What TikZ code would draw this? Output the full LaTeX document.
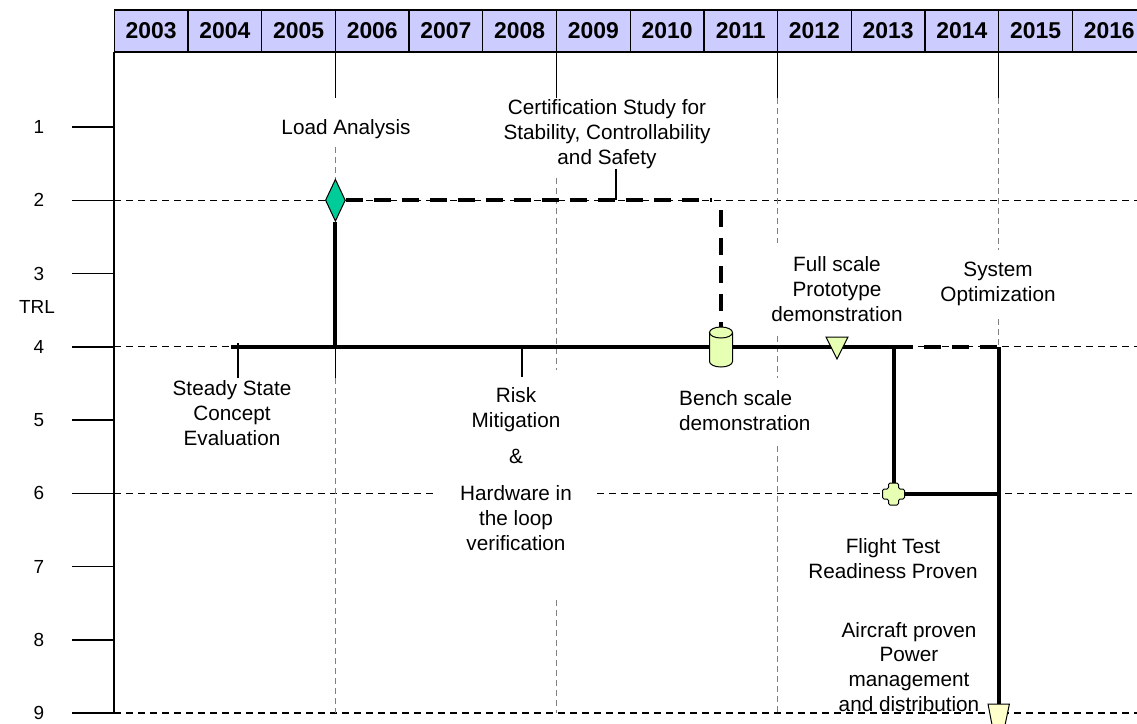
\documentclass[tikz,border=0pt]{standalone}
\usepackage{fontspec}
\setmainfont{Liberation Sans}
\usetikzlibrary{shapes.geometric}
\definecolor{hdr}{RGB}{204,204,255}
\definecolor{mteal}{RGB}{0,204,153}
\definecolor{mk}{RGB}{230,255,179}
\definecolor{mktwo}{RGB}{255,255,204}
\definecolor{gridgray}{RGB}{128,128,128}
\begin{document}
\begin{tikzpicture}[x=1bp,y=-1bp,
  yearcell/.style={draw=black, line width=1.3bp, fill=hdr, minimum width=73.7bp, minimum height=42bp, inner sep=0, font=\fontsize{23}{26}\selectfont\bfseries},
  rowlab/.style={font=\fontsize{19}{22}\selectfont, inner sep=0},
  lab/.style={font=\fontsize{20.8}{25}\selectfont, align=center, inner sep=0},
  rowgrid/.style={line width=1.3bp, dash pattern=on 7bp off 5bp},
  vgrid/.style={draw=gridgray, line width=1.3bp, dash pattern=on 6bp off 4bp},
  vtop/.style={line width=1.2bp},
  crit/.style={line width=4bp},
  critdash/.style={line width=4bp, dash pattern=on 17bp off 11bp},
  conn/.style={line width=1.5bp},
  marker/.style={draw=black, line width=1bp}
]
\useasboundingbox (0,0) rectangle (1137,724);
\clip (0,0) rectangle (1137,724);
\fill[white] (0,0) rectangle (1137,724);

% header
\foreach \yr [count=\i from 0] in {2003,...,2016}
  \node[yearcell] (y\yr) at ({114.3+73.7*\i+36.85},31) {\yr};

% axis and row labels
\draw[line width=2bp] (114.3,52) -- (114.3,713);
\foreach \r in {1,...,9} {
  \node[rowlab] (r\r) at (39,{127+(\r-1)*73.25}) {\r};
  \draw[line width=1.5bp] (72,{127+(\r-1)*73.25}) -- (114.3,{127+(\r-1)*73.25});
}
\node[rowlab] (trl) at (37,307) {TRL};

% horizontal grid rows
\draw[rowgrid] (114.3,200.25) -- (1137,200.25);
\draw[rowgrid] (114.3,346.75) -- (1137,346.75);
\draw[rowgrid] (114.3,493.25) -- (435,493.25);
\draw[rowgrid] (597,493.25) -- (1137,493.25);
\draw[rowgrid] (114.3,713) -- (1137,713);

% vertical grid lines
\foreach \xx in {335.4,556.5,777.6,998.7}
  \draw[vtop] (\xx,52) -- (\xx,98);
\draw[vgrid] (335.4,147) -- (335.4,179);
\draw[vgrid] (335.4,378) -- (335.4,713);
\draw[vgrid] (556.5,178) -- (556.5,370);
\draw[vgrid] (556.5,600) -- (556.5,713);
\draw[vgrid] (777.6,98) -- (777.6,243);
\draw[vgrid] (777.6,336) -- (777.6,378);
\draw[vgrid] (777.6,446) -- (777.6,713);
\draw[vgrid] (998.7,98) -- (998.7,250);
\draw[vgrid] (998.7,319) -- (998.7,347);

% markers (nodes)
\node[diamond, marker, fill=mteal, minimum width=20bp, minimum height=42bp, inner sep=0] (dia) at (335.4,200.25) {};
\node[minimum width=23bp, minimum height=40bp, inner sep=0] (cyl) at (721,347) {};
\node[minimum size=22bp, inner sep=0] (tri) at (837,348) {};
\node[minimum size=22bp, inner sep=0] (plus) at (893.5,494) {};
\node[minimum width=21bp, minimum height=20bp, inner sep=0, anchor=north] (bot) at (998.7,704) {};

\coordinate (s4) at (231,346.75);
\coordinate (e4) at (896,346.75);
\coordinate (j4) at (893.5,346.75);
\coordinate (d4) at (998.7,346.75);
\coordinate (d6) at (998.7,494);
\coordinate (c2) at (712,200.25);
\coordinate (c2v) at (721,210);

% critical path
\draw[crit] (dia.south) -- (dia.south |- s4);
\draw[crit] (s4) -- (e4);
\draw[crit] (j4) -- (plus.north);
\draw[crit] (plus.east) -- (d6);
\draw[crit] (d4) -- (bot.north);
\draw[critdash] (dia.east) -- (c2);
\draw[critdash] (c2v) -- (cyl.north);
\draw[critdash] (e4) -- (d4);

% thin connectors
\draw[conn] (238,343) -- (238,378);
\draw[conn] (522,349) -- (522,377);
\draw[conn] (335.4,347) -- (335.4,378);
\draw[conn] (616,169) -- (616,200.25);

% marker drawings
\begin{scope}[shift={(cyl.center)}]
  \draw[marker, fill=mk] (-11.5,-14.5) -- (-11.5,14.5) arc[start angle=180, end angle=360, x radius=11.5bp, y radius=5.5bp] -- (11.5,-14.5) arc[start angle=0, end angle=180, x radius=11.5bp, y radius=5.5bp] -- cycle;
  \draw[marker] (-11.5,-14.5) arc[start angle=180, end angle=360, x radius=11.5bp, y radius=5.5bp];
\end{scope}
\begin{scope}[shift={(tri.center)}]
  \draw[marker, fill=mk] (-11,-11) -- (11,-11) -- (0,11) -- cycle;
\end{scope}
\begin{scope}[shift={(plus.center)}]
  \draw[marker, fill=mk, rounded corners=1.5bp] (-5,-11) -- (5,-11) -- (5,-5) -- (11,-5) -- (11,5) -- (5,5) -- (5,11) -- (-5,11) -- (-5,5) -- (-11,5) -- (-11,-5) -- (-5,-5) -- cycle;
\end{scope}
\draw[marker, fill=mktwo] (bot.north west) -- (bot.north east) -- (1004,730) -- (993,730) -- cycle;

% labels
\node[lab] (lload) at (346,129) {Load Analysis};
\node[lab] (lcert) at (607,134) {Certification Study for\\Stability, Controllability\\and Safety};
\node[lab] (lfull) at (837,289) {Full scale\\Prototype\\demonstration};
\node[lab] (lsys) at (998,284) {System\\Optimization};
\node[lab] (lsteady) at (232,413) {Steady State\\Concept\\Evaluation};
\node[lab] (lrisk) at (516,469) {Risk\\Mitigation\\[12bp]\&\\[12bp]Hardware in\\the loop\\verification};
\node[lab, align=left, anchor=west] (lbench) at (679,411) {Bench scale\\demonstration};
\node[lab] (lflight) at (893,559) {Flight Test\\Readiness Proven};
\node[lab] (lair) at (909,667) {Aircraft proven\\Power\\management\\and distribution};
\end{tikzpicture}
\end{document}
